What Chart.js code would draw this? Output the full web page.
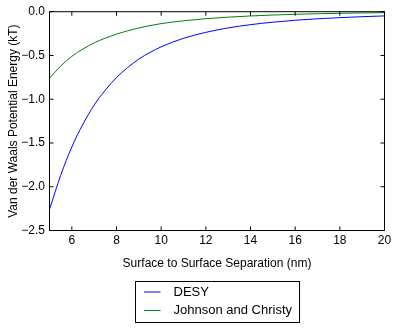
<!DOCTYPE html>
<html>
<head>
<meta charset="utf-8">
<title>Van der Waals Potential Energy</title>
<script src="https://cdn.jsdelivr.net/npm/chart.js@4/dist/chart.umd.min.js"></script>
<style>
  html, body { margin: 0; padding: 0; background: #fff; }
  #wrap { width: 396px; height: 330px; }
</style>
</head>
<body>
<div id="wrap"><canvas id="vdw" width="396" height="330"></canvas></div>
<script>
// Surface to surface separation (nm)
const separation = [5, 5.5, 6, 6.5, 7, 7.5, 8, 8.5, 9, 9.5, 10, 11, 12, 13, 14, 15, 16, 17, 18, 19, 20];

// Potential energy (kT)
const desy = [-2.26, -1.87, -1.545, -1.284, -1.067, -0.896, -0.752, -0.638, -0.541, -0.466, -0.401,
              -0.304, -0.236, -0.185, -0.148, -0.120, -0.098, -0.081, -0.068, -0.057, -0.048];
const johnsonChristy = [-0.76, -0.622, -0.51, -0.426, -0.356, -0.302, -0.256, -0.218, -0.186, -0.159, -0.136,
                        -0.104, -0.080, -0.0625, -0.0487, -0.0379, -0.0295, -0.023, -0.0179, -0.0139, -0.0109];

const seriesNames = ['DESY', 'Johnson and Christy'];
const xTicks = [6, 8, 10, 12, 14, 16, 18, 20];
const yTicks = [0, -0.5, -1.0, -1.5, -2.0, -2.5];

const FONT = '"Liberation Sans", Arial, sans-serif';

// pair x values with a series
function points(values) {
  return separation.map((x, i) => ({ x: x, y: values[i] }));
}

// black frame plus inward ticks on all four sides (old matplotlib look)
const frameAndTicks = {
  id: 'frameAndTicks',
  afterDatasetsDraw(chart) {
    const { ctx, chartArea: a, scales: { x, y } } = chart;
    ctx.save();
    ctx.strokeStyle = '#000';
    ctx.lineWidth = 1;
    ctx.beginPath();
    xTicks.forEach(v => {
      const px = x.getPixelForValue(v);
      ctx.moveTo(px, a.bottom); ctx.lineTo(px, a.bottom - 4);
      ctx.moveTo(px, a.top); ctx.lineTo(px, a.top + 4);
    });
    yTicks.forEach(v => {
      const py = y.getPixelForValue(v);
      ctx.moveTo(a.left, py); ctx.lineTo(a.left + 4, py);
      ctx.moveTo(a.right, py); ctx.lineTo(a.right - 4, py);
    });
    ctx.stroke();
    ctx.strokeRect(a.left, a.top, a.right - a.left, a.bottom - a.top);
    ctx.restore();
  }
};

// boxed legend under the x axis title
const boxLegend = {
  id: 'boxLegend',
  afterDraw(chart) {
    const { ctx, chartArea: a } = chart;
    const sets = chart.data.datasets;
    ctx.save();
    ctx.font = '13px ' + FONT;
    const textW = Math.max(...sets.map(d => ctx.measureText(d.label).width));
    const w = 8.5 + 16.5 + 13 + textW + 7.5;
    const left = Math.round((a.left + a.right) / 2 - w / 2) + 0.5;
    const top = 281.5;
    const h = 41;
    ctx.strokeStyle = '#000';
    ctx.lineWidth = 1;
    ctx.strokeRect(left, top, w, h);
    ctx.textBaseline = 'middle';
    ctx.textAlign = 'left';
    sets.forEach((d, i) => {
      const cy = top + 10.5 + i * 18.5;
      ctx.strokeStyle = d.borderColor;
      ctx.beginPath();
      ctx.moveTo(left + 8.5, cy);
      ctx.lineTo(left + 25, cy);
      ctx.stroke();
      ctx.fillStyle = '#000';
      ctx.fillText(d.label, left + 38, cy);
    });
    ctx.restore();
  }
};

new Chart(document.getElementById('vdw'), {
  type: 'line',
  data: {
    datasets: [
      { label: seriesNames[0], data: points(desy), borderColor: '#0000ff', borderWidth: 1,
        cubicInterpolationMode: 'monotone', pointRadius: 0, fill: false },
      { label: seriesNames[1], data: points(johnsonChristy), borderColor: '#008000', borderWidth: 1,
        cubicInterpolationMode: 'monotone', pointRadius: 0, fill: false }
    ]
  },
  options: {
    responsive: false,
    animation: false,
    devicePixelRatio: 1,
    layout: { padding: { top: 7.5, right: 11.5, bottom: 59, left: 0 } },
    plugins: { legend: { display: false }, tooltip: { enabled: false } },
    scales: {
      x: {
        type: 'linear',
        min: 5,
        max: 20,
        grid: { display: false, drawTicks: false },
        border: { display: false },
        afterBuildTicks: s => { s.ticks = xTicks.map(v => ({ value: v })); },
        afterFit: s => { s.height = 40.5; },
        ticks: {
          padding: 3,
          autoSkip: false,
          maxRotation: 0,
          color: '#000',
          font: { family: FONT, size: 12 },
          callback: v => String(v)
        },
        title: {
          display: true,
          text: 'Surface to Surface Separation (nm)',
          color: '#000',
          font: { family: FONT, size: 12 },
          padding: { top: 0, bottom: 0 }
        }
      },
      y: {
        type: 'linear',
        min: -2.5,
        max: 0,
        grid: { display: false, drawTicks: false },
        border: { display: false },
        afterBuildTicks: s => { s.ticks = yTicks.map(v => ({ value: v })); },
        afterFit: s => { s.width = 49.5; },
        ticks: {
          padding: 4.5,
          autoSkip: false,
          color: '#000',
          font: { family: FONT, size: 12 },
          callback: v => (v === 0 ? '0.0' : v.toFixed(1).replace('-', '\u2212'))
        },
        title: {
          display: true,
          text: 'Van der Waals Potential Energy (kT)',
          color: '#000',
          font: { family: FONT, size: 12 },
          padding: { top: 6.5, bottom: 0 }
        }
      }
    }
  },
  plugins: [frameAndTicks, boxLegend]
});
</script>
</body>
</html>
